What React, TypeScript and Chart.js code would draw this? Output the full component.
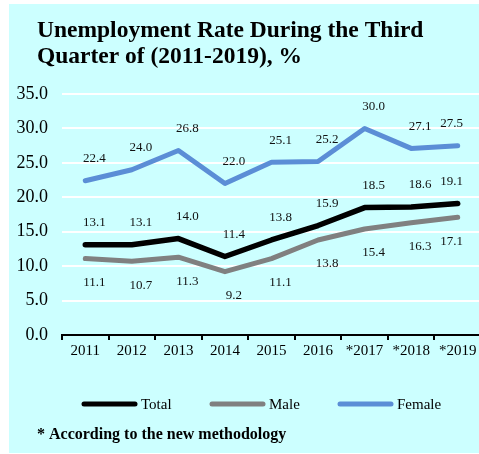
import React, { useEffect, useRef } from "react";
import { Chart, registerables } from "chart.js";

Chart.register(...registerables);

const categories = ["2011", "2012", "2013", "2014", "2015", "2016", "*2017", "*2018", "*2019"];
const totalValues = [13.1, 13.1, 14.0, 11.4, 13.8, 15.9, 18.5, 18.6, 19.1];
const maleValues = [11.1, 10.7, 11.3, 9.2, 11.1, 13.8, 15.4, 16.3, 17.1];
const femaleValues = [22.4, 24.0, 26.8, 22.0, 25.1, 25.2, 30.0, 27.1, 27.5];
const titleLines = ["Unemployment Rate During the Third", "Quarter of (2011-2019), %"];
const footnote = "* According to the new methodology";

const SERIF = "'Liberation Serif', 'Times New Roman', serif";

const overlayPlugin = {
  id: "overlay",
  afterDatasetsDraw(chart: any) {
    const ctx = chart.ctx;
    ctx.save();
    // data labels
    ctx.font = `13px ${SERIF}`;
    ctx.fillStyle = "#111";
    ctx.textAlign = "center";
    ctx.textBaseline = "middle";
    chart.data.datasets.forEach((ds: any, i: number) => {
      const meta = chart.getDatasetMeta(i);
      meta.data.forEach((el: any, j: number) => {
        const last = j === meta.data.length - 1;
        const dx = last ? -6 : 9;
        const dy = ds.labelPos === "below" ? 24 : -22;
        ctx.fillText(Number(ds.data[j]).toFixed(1), el.x + dx, el.y + dy);
      });
    });
    ctx.restore();
  },
  afterDraw(chart: any) {
    const ctx = chart.ctx;
    ctx.save();
    // title
    ctx.fillStyle = "#000";
    ctx.font = `bold 23.5px ${SERIF}`;
    ctx.textAlign = "left";
    ctx.textBaseline = "alphabetic";
    titleLines.forEach((t, i) => ctx.fillText(t, 28, 33 + i * 26));
    // legend
    const legY = 400;
    chart.data.datasets.forEach((ds: any, i: number) => {
      const x0 = 73 + i * 128;
      ctx.strokeStyle = ds.borderColor;
      ctx.lineWidth = 5;
      ctx.lineCap = "round";
      ctx.beginPath();
      ctx.moveTo(x0 + 2, legY);
      ctx.lineTo(x0 + 53, legY);
      ctx.stroke();
      ctx.fillStyle = "#000";
      ctx.font = `15px ${SERIF}`;
      ctx.textBaseline = "middle";
      ctx.fillText(ds.label, x0 + 59, legY + 1);
    });
    // footnote
    ctx.font = `bold 16px ${SERIF}`;
    ctx.textBaseline = "middle";
    ctx.fillText(footnote, 28, 431);
    ctx.restore();
  },
};

export default function App() {
  const ref = useRef<HTMLCanvasElement | null>(null);
  useEffect(() => {
    if (!ref.current) return;
    const lineStyle = {
      pointRadius: 0,
      pointHoverRadius: 0,
      tension: 0,
      fill: false,
      borderCapStyle: "round",
      borderJoinStyle: "round",
    };
    const chart = new Chart(ref.current, {
      type: "line",
      data: {
        labels: categories,
        datasets: [
          { label: "Total", data: totalValues, borderColor: "#000000", backgroundColor: "#000000", borderWidth: 5.5, labelPos: "above", ...lineStyle } as any,
          { label: "Male", data: maleValues, borderColor: "#808080", backgroundColor: "#808080", borderWidth: 5, labelPos: "below", ...lineStyle } as any,
          { label: "Female", data: femaleValues, borderColor: "#5B8ED6", backgroundColor: "#5B8ED6", borderWidth: 5, labelPos: "above", ...lineStyle } as any,
        ],
      },
      options: {
        responsive: false,
        devicePixelRatio: 1,
        animation: false,
        events: [],
        layout: { padding: { top: 90, bottom: 88, left: 0, right: 2 } },
        plugins: { legend: { display: false }, title: { display: false }, tooltip: { enabled: false } },
        scales: {
          x: {
            offset: true,
            grid: { offset: true, drawOnChartArea: false, drawTicks: true, tickLength: 5, color: "#000", lineWidth: 2 },
            border: { display: true, color: "#000", width: 2 },
            ticks: { color: "#000", font: { family: SERIF, size: 15 }, padding: 2, maxRotation: 0, autoSkip: false },
            afterFit: (s: any) => { s.height = 30; },
          },
          y: {
            min: 0,
            max: 35,
            ticks: { stepSize: 5, color: "#000", font: { family: SERIF, size: 18 }, padding: 14, callback: (v: any) => Number(v).toFixed(1) },
            grid: { drawTicks: false, lineWidth: 2, color: (c: any) => (c.tick && c.tick.value === 0 ? "rgba(0,0,0,0)" : "#ffffff") },
            border: { display: false },
            afterFit: (s: any) => { s.width = 53; },
          },
        },
      },
      plugins: [overlayPlugin],
    } as any);
    return () => chart.destroy();
  }, []);
  return (
    <div style={{ position: "absolute", left: 9, top: 4, width: 470, height: 449, overflow: "hidden", background: "#CCFFFF" }}>
      <canvas ref={ref} width={474} height={449} style={{ width: 474, height: 449, display: "block" }} />
    </div>
  );
}
